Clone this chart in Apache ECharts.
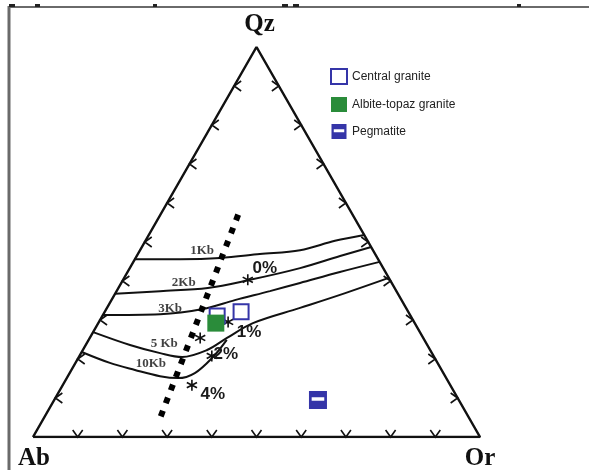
<!DOCTYPE html>
<html><head><meta charset="utf-8">
<script src="https://cdn.jsdelivr.net/npm/echarts@6/dist/echarts.min.js"></script>
<style>html,body{margin:0;padding:0;background:#fff}#c{width:589px;height:470px}</style>
</head><body><div id="c"></div>
<script>
// Ternary compositions as [Qz, Ab, Or] in %
const vertexNames = ['Ab', 'Or', 'Qz'];
const vertices = [[0, 100, 0], [0, 0, 100], [100, 0, 0], [0, 100, 0]];
const tickLevels = [10, 20, 30, 40, 50, 60, 70, 80, 90];

const isobarNames = ['1Kb', '2Kb', '3Kb', '5 Kb', '10Kb'];
const isobar1Kb = [[45.6, 54.4, 0], [45.6, 44.3, 10.1], [45.9, 35.2, 18.9], [46.9, 25.8, 27.3], [47.9, 16.3, 35.8], [50.3, 7.3, 42.4], [51.8, 0, 48.2]];
const isobar2Kb = [[36.7, 63.3, 0], [37.4, 52.9, 9.7], [38.2, 41.8, 20.0], [40.3, 31.3, 28.4], [43.3, 18.6, 38.1], [46.4, 8.1, 45.5], [48.7, 0, 51.3]];
const isobar3Kb = [[31.3, 68.7, 0], [31.5, 55.8, 12.7], [32.8, 45.6, 21.6], [35.1, 37.3, 27.6], [37.4, 28.3, 34.3], [39.5, 20.5, 40.0], [42.3, 10.2, 47.5], [44.9, 0, 55.1]];
const isobar5Kb = [[26.9, 73.1, 0], [23.6, 66.5, 9.9], [21.5, 60.8, 17.7], [20.5, 56.4, 23.1], [22.3, 49.9, 27.8], [25.4, 43.9, 30.7], [29.2, 36.2, 34.6], [33.1, 23.7, 43.2], [36.9, 11.7, 51.4], [40.8, 0, 59.2]];
const isobar10Kb = [[21.8, 78.2, 0], [19.0, 73.3, 7.7], [17.2, 68.6, 14.2], [15.6, 63.8, 20.6], [15.1, 60.0, 24.9], [16.4, 55.6, 28.0], [20.5, 49.5, 30.0], [24.9, 44.2, 30.9]];

const dottedTrend = [[57.0, 25.6, 17.4], [4.9, 69.1, 26.0]];

const minimaLabels = ['0%', '1%', '', '2%', '4%'];
const minima = [[40.3, 31.8, 27.9], [29.5, 41.6, 28.9], [25.4, 49.9, 24.7], [20.8, 49.6, 29.6], [13.3, 57.8, 28.9]];

const centralGranite = [[32.1, 37.4, 30.5], [31.0, 43.3, 25.7]];
const albiteTopazGranite = [[29.2, 44.5, 26.3]];
const pegmatite = [[9.5, 31.5, 59.0]];

// ternary -> cartesian plot units (x: 0..100 along Ab-Or, y: Qz %)
function tern(p) { return [p[2] + p[0] / 2, p[0]]; }

const BLUE = '#3535a8';
const GREEN = '#2a8c3a';
const pegPath = 'path://M0,0 H20 V20 H0 Z M3,7 V11 H17 V7 Z';
const starPath = 'path://M8.6,0 H11.4 V20 H8.6 Z M0.5,6.4 L1.9,3.9 L19.5,13.6 L18.1,16.1 Z M1.9,16.1 L0.5,13.6 L18.1,3.9 L19.5,6.4 Z';

const curveSets = [isobar1Kb, isobar2Kb, isobar3Kb, isobar5Kb, isobar10Kb];
// which point of each curve anchors its label, and the label offset (px)
const curveLabelAnchor = [[2, [-18, -7]], [2, [-24, -5]], [1, [10, -6]], [2, [4, -10]], [2, [16, -6]]];
const minimaOffsets = [[17, -12], [21, 10], [0, 0], [14, -2], [21, 9]];

const tickData = [];
tickLevels.forEach(v => {
  tickData.push(tern([0, 100 - v, v]).concat([0]));
  tickData.push(tern([v, 100 - v, 0]).concat([1]));
  tickData.push(tern([v, 0, 100 - v]).concat([2]));
});

const vertexLabelOffsets = [[1, 22], [0, 22], [3, -22]];

const series = [];
series.push({
  type: 'line', name: 'frame', data: vertices.map((p, i) => ({
    value: tern(p),
    label: i < 3 ? { show: true, position: 'inside', offset: vertexLabelOffsets[i], formatter: vertexNames[i],
      fontFamily: 'Liberation Serif', fontWeight: 'bold', fontSize: 25, color: '#111' } : { show: false }
  })),
  symbol: 'circle', symbolSize: 0.1, showSymbol: true, itemStyle: { color: 'transparent' },
  lineStyle: { color: '#111', width: 2.5 }, silent: true, z: 3
});
series.push({
  type: 'custom', name: 'ticks', data: tickData, encode: { x: 0, y: 1 }, silent: true, z: 3,
  renderItem: function (params, api) {
    const p = api.coord([api.value(0), api.value(1)]);
    const e = api.value(2);
    let pts;
    if (e === 0) pts = [[p[0] - 5, p[1] - 7], [p[0], p[1]], [p[0] + 5, p[1] - 7]];
    else if (e === 1) pts = [[p[0] + 7, p[1] - 5], [p[0], p[1]], [p[0] + 7, p[1] + 5]];
    else pts = [[p[0] - 7, p[1] - 5], [p[0], p[1]], [p[0] - 7, p[1] + 5]];
    return { type: 'polyline', shape: { points: pts }, style: { stroke: '#111', lineWidth: 1.6, fill: null } };
  }
});
curveSets.forEach((c, k) => {
  series.push({
    type: 'line', name: isobarNames[k], data: c.map(tern), smooth: 0.35, showSymbol: false,
    lineStyle: { color: '#111', width: 2 }, silent: true, z: 4
  });
});
series.push({
  type: 'scatter', name: 'curveLabels', silent: true, z: 6,
  symbol: 'circle', symbolSize: 1, itemStyle: { color: 'transparent' },
  data: curveSets.map((c, k) => ({
    value: tern(c[curveLabelAnchor[k][0]]),
    label: { show: true, position: 'inside', offset: curveLabelAnchor[k][1], formatter: isobarNames[k],
      fontFamily: 'Liberation Serif', fontWeight: 'bold', fontSize: 13, color: '#111' }
  }))
});
series.push({
  type: 'line', name: 'trend', data: dottedTrend.map(tern), showSymbol: false, silent: true, z: 5,
  lineStyle: { color: '#000', width: 6, type: [6, 8], cap: 'butt' }
});
series.push({
  type: 'scatter', name: 'minima', silent: true, z: 7,
  symbol: starPath, symbolSize: 11, itemStyle: { color: '#111', opacity: 1 },
  data: minima.map((p, i) => ({
    value: tern(p),
    label: { show: minimaLabels[i] !== '', position: 'inside', offset: minimaOffsets[i], formatter: minimaLabels[i],
      fontFamily: 'Liberation Sans', fontWeight: 'bold', fontSize: 17, color: '#1a1a1a' }
  }))
});
series.push({
  type: 'scatter', name: 'Central granite', data: centralGranite.map(tern), symbol: 'rect', symbolSize: 15,
  itemStyle: { color: '#fff', borderColor: BLUE, borderWidth: 2, opacity: 1 }, z: 8
});
series.push({
  type: 'scatter', name: 'Albite-topaz granite', data: albiteTopazGranite.map(tern), symbol: 'rect', symbolSize: 17,
  itemStyle: { color: GREEN, opacity: 1 }, z: 9
});
series.push({
  type: 'scatter', name: 'Pegmatite', data: pegmatite.map(tern), symbol: pegPath, symbolSize: 18,
  itemStyle: { color: BLUE, opacity: 1 }, z: 9
});

const chart = echarts.init(document.getElementById('c'), null, { renderer: 'canvas' });
chart.setOption({
  animation: false,
  backgroundColor: '#fff',
  grid: { left: 33, right: 109, top: 47, bottom: 33 },
  xAxis: { type: 'value', min: 0, max: 100, show: false },
  yAxis: { type: 'value', min: 0, max: 100, show: false },
  legend: {
    orient: 'vertical', left: 325, top: 63, itemWidth: 16, itemHeight: 15, itemGap: 12,
    textStyle: { fontFamily: 'Liberation Sans Narrow, Liberation Sans, sans-serif', fontSize: 12, color: '#222' },
    data: [
      { name: 'Central granite', icon: 'rect', itemStyle: { color: '#fff', borderColor: BLUE, borderWidth: 2, opacity: 1 } },
      { name: 'Albite-topaz granite', icon: 'rect', itemStyle: { color: GREEN, opacity: 1 } },
      { name: 'Pegmatite', icon: pegPath, itemStyle: { color: BLUE, opacity: 1 } }
    ]
  },
  graphic: [
    { type: 'line', shape: { x1: 9, y1: 7, x2: 589, y2: 7 }, style: { stroke: '#6a6a6a', lineWidth: 2 } },
    { type: 'line', shape: { x1: 9, y1: 6, x2: 9, y2: 470 }, style: { stroke: '#6a6a6a', lineWidth: 3 } },
    { type: 'rect', shape: { x: 9, y: 4, width: 6, height: 3 }, style: { fill: '#222' } },
    { type: 'rect', shape: { x: 35, y: 4, width: 5, height: 3 }, style: { fill: '#222' } },
    { type: 'rect', shape: { x: 153, y: 4, width: 4, height: 3 }, style: { fill: '#222' } },
    { type: 'rect', shape: { x: 282, y: 4, width: 6, height: 3 }, style: { fill: '#222' } },
    { type: 'rect', shape: { x: 293, y: 4, width: 6, height: 3 }, style: { fill: '#222' } },
    { type: 'rect', shape: { x: 517, y: 4, width: 4, height: 3 }, style: { fill: '#222' } }
  ],
  series: series
});
</script></body></html>
